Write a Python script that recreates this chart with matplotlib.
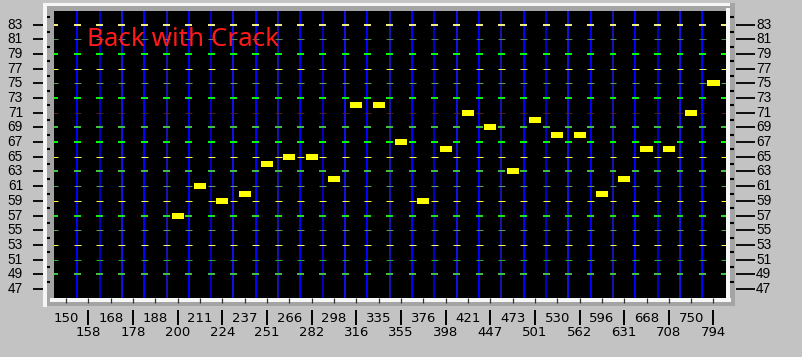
import matplotlib
matplotlib.use('Agg')
import numpy as np
import matplotlib.pyplot as plt
from matplotlib.patches import Rectangle
from matplotlib.transforms import blended_transform_factory

# x axis: frequency bins (one per semitone), y axis: note number
freqs = [150, 158, 168, 178, 188, 200, 211, 224, 237, 251, 266, 282, 298, 316, 335,
         355, 376, 398, 421, 447, 473, 501, 530, 562, 596, 631, 668, 708, 750, 794]
note_pos = list(range(5, 30))
notes = [57, 61, 59, 60, 64, 65, 65, 62, 72, 72, 67, 59, 66, 71, 69, 63,
         70, 68, 68, 60, 62, 66, 66, 71, 75]
levels = list(range(47, 85, 2))
title = 'Back with Crack'

# dash colour / width(px) for each grid level
level_style = {
    83: ('#f0f080', 2), 81: ('#5a8a5a', 1), 79: ('#00ff00', 2), 77: ('#ffff50', 1),
    75: ('#60a060', 1), 73: ('#10f010', 2), 71: ('#502020', 1), 69: ('#40c040', 2),
    67: ('#00ff00', 2), 65: ('#ffff40', 1), 63: ('#40c040', 2), 61: ('#60a060', 1),
    59: ('#ffff40', 1), 57: ('#20e020', 2), 55: ('#60a060', 1), 53: ('#ffff60', 1),
    51: ('#30b030', 1), 49: ('#40c040', 2),
}
blue_cycle = ['#0000ff', '#0000c0', '#1010e0', '#0000ff', '#1414a8']

W, H = 803, 357
AX_L, AX_R, AX_T, AX_B = 54, 726, 11, 298
BG = '#c3c3c3'
PX = 0.72  # points per pixel


def fx(px):
    return (px - AX_L) / (AX_R - AX_L)


def fy(py):
    return (AX_B - py) / (AX_B - AX_T)


fig = plt.figure(figsize=(W / 100, H / 100), dpi=100, facecolor=BG)


def prect(x0, y0, x1, y1, color):
    fig.add_artist(Rectangle((x0 / W, 1 - y1 / H), (x1 - x0) / W, (y1 - y0) / H,
                             transform=fig.transFigure, facecolor=color,
                             edgecolor='none', zorder=-1))


# bevelled frame round the plot
prect(43, 3, 735, 306, '#a4a4a4')
prect(43, 3, 730, 6, '#f6f6f6')
prect(43, 3, 47, 307, '#f6f6f6')
prect(50, 298, 731, 302, '#f6f6f6')
prect(726, 8, 730, 302, '#f6f6f6')

ax = fig.add_axes([AX_L / W, 1 - AX_B / H, (AX_R - AX_L) / W, (AX_B - AX_T) / H])
ax.set_facecolor('black')
ax.set_xlim(-0.54, 29.56)
ax.set_ylim(45.78, 84.84)
ax.set_xticks([])
ax.set_yticks([])
for s in ax.spines.values():
    s.set_visible(False)

tx = blended_transform_factory(ax.transData, ax.transAxes)
ty = blended_transform_factory(ax.transAxes, ax.transData)

# vertical blue lines between bins
for i in range(29):
    ax.axvline(i + 0.5, color=blue_cycle[i % len(blue_cycle)], lw=2 * PX, zorder=1)

# dashed horizontal grid, dashes centred on the blue lines
centers = np.arange(-1, 30) + 0.5
for lv in levels:
    if lv not in level_style:
        continue
    c, w = level_style[lv]
    ax.hlines([lv] * len(centers), centers - 0.155, centers + 0.155,
              colors=c, lw=w * PX, zorder=2)

# note bars
ax.bar(note_pos, 0.82, bottom=np.array(notes) - 0.41, width=0.54,
       color='#ffff00', zorder=3)

ax.text(fx(87), fy(46), title, transform=ax.transAxes, color='#ff1a1a',
        fontsize=18.7, family=['Noto Sans', 'DejaVu Sans'], va='baseline', zorder=5)

# y axis ticks and labels (both sides)
odd = levels
even = list(range(48, 85, 2))
ax.hlines(odd, fx(33), fx(43), transform=ty, colors='black', lw=1.3, clip_on=False)
ax.hlines(odd, fx(736), fx(755), transform=ty, colors='black', lw=1.3, clip_on=False)
ax.hlines(even, fx(47), fx(50), transform=ty, colors='black', lw=1.5, clip_on=False)
ax.hlines(even, fx(730), fx(734), transform=ty, colors='black', lw=1.5, clip_on=False)
for lv in odd:
    ax.text(fx(23), lv, str(lv), transform=ty, ha='right', va='center',
            fontsize=9.8, family=['Liberation Sans', 'DejaVu Sans'], color='black')
    ax.text(fx(756), lv, str(lv), transform=ty, ha='left', va='center',
            fontsize=9.8, family=['Liberation Sans', 'DejaVu Sans'], color='black')

# x axis notches, separators and two-row labels
idx = np.arange(len(freqs))
ax.vlines(idx, fy(298), fy(303), transform=tx, colors='#303030', lw=0.9, clip_on=False)
ax.vlines(idx[1::2], fy(310), fy(325), transform=tx, colors='black', lw=1.4, clip_on=False)
for i, f in enumerate(freqs):
    y = fy(318) if i % 2 == 0 else fy(333)
    ax.text(i, y, str(f), transform=tx, ha='center', va='center',
            fontsize=9.5, family='DejaVu Sans', color='black')

fig.savefig('out.png', dpi=100, facecolor=BG)
